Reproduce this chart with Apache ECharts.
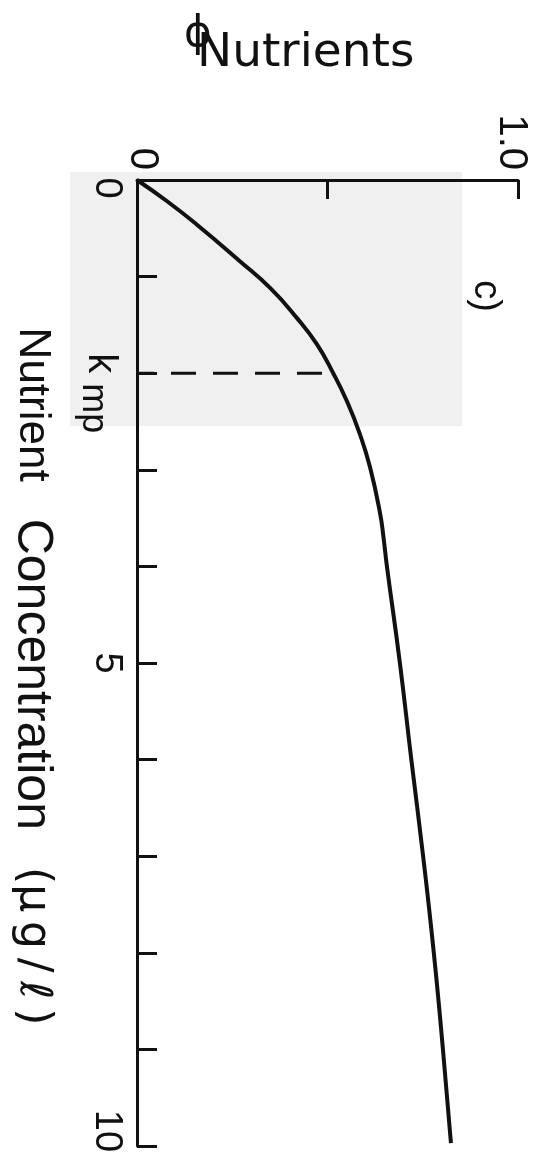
<!DOCTYPE html>
<html>
<head>
<meta charset="utf-8">
<script src="https://cdn.jsdelivr.net/npm/echarts@6/dist/echarts.min.js"></script>
<style>
html,body{margin:0;padding:0;background:#fff;}
#c{width:541px;height:1156px;}
</style>
</head>
<body>
<div id="c"></div>
<script>
// Nutrient concentration (µg/ℓ) along the curve, and the limitation factor φ
var concentration = [0, 0.22, 0.455, 0.84, 1.12, 1.43, 1.70, 2.0, 2.29, 2.63, 2.98, 3.45, 3.7, 4, 5, 6, 7, 8, 9, 9.97];
var phi =           [0, 0.079, 0.155, 0.27, 0.35, 0.42, 0.472, 0.515, 0.551, 0.585, 0.612, 0.638, 0.647, 0.656, 0.690, 0.720, 0.751, 0.779, 0.803, 0.824];
// half-saturation constant marker
var kmp = 2;
var phiAtKmp = 0.5;
// tick labels
var phiTickLabels = {0: '{a|0}', 1: '{b|1.0}'};
var concTickLabels = {0: '{z|0}', 2: '{k|k}{s|mp}', 5: '{f|5}', 10: '{t|10}'};

var chart = echarts.init(document.getElementById('c'), null, {renderer: 'canvas'});
var FONT = 'Liberation Sans';
var INK = '#111';

var curve = concentration.map(function (c, i) { return [phi[i], c]; });

chart.setOption({
  backgroundColor: '#fff',
  animation: false,
  title: [
    {text: 'ϕ', left: 184, top: 14, padding: 0,
     textStyle: {fontSize: 42, fontWeight: 'normal', fontFamily: 'DejaVu Sans', color: INK}},
    {text: 'Nutrients', left: 197, top: 30, padding: 0,
     textStyle: {fontSize: 47, fontWeight: 'normal', fontFamily: 'DejaVu Sans', color: INK}}
  ],
  graphic: [
    {type: 'rect', z: -10, shape: {x: 70, y: 172, width: 392, height: 254}, style: {fill: '#f0f0f0'}},
    {type: 'text', x: 485, y: 296, rotation: -Math.PI / 2,
     style: {text: 'c)', fontSize: 38, fontFamily: FONT, fill: INK, align: 'center', verticalAlign: 'middle'}}
  ],
  grid: {left: 137, top: 180, right: 23, bottom: 10, containLabel: false, outerBoundsMode: 'none'},
  xAxis: {
    type: 'value', position: 'top', min: 0, max: 1, interval: 0.5,
    splitLine: {show: false},
    axisLine: {show: true, lineStyle: {color: INK, width: 3}},
    axisTick: {show: true, inside: true, length: 19, lineStyle: {color: INK, width: 3}},
    axisLabel: {
      show: true, rotate: -90, margin: 10, showMinLabel: true, showMaxLabel: true,
      fontSize: 40, fontFamily: FONT, color: INK,
      formatter: function (v) { return phiTickLabels[v] !== undefined ? phiTickLabels[v] : ''; },
      rich: {
        a: {fontSize: 40, fontFamily: FONT, color: INK, padding: [0, 0, 10, 0]},
        b: {fontSize: 40, fontFamily: FONT, color: INK, padding: [14, 0, 0, 0]}
      }
    }
  },
  yAxis: {
    type: 'value', inverse: true, min: 0, max: 10, interval: 1,
    splitLine: {show: false},
    axisLine: {show: true, lineStyle: {color: INK, width: 3}},
    axisTick: {show: true, inside: true, length: 20, lineStyle: {color: INK, width: 3}},
    axisLabel: {
      show: true, rotate: -90, margin: 12, showMinLabel: true, showMaxLabel: true,
      fontSize: 38, fontFamily: FONT, color: INK,
      formatter: function (v) { return concTickLabels[v] !== undefined ? concTickLabels[v] : ''; },
      rich: {
        z: {fontSize: 38, fontFamily: FONT, color: INK, padding: [0, 0, 0, 16]},
        f: {fontSize: 38, fontFamily: FONT, color: INK},
        t: {fontSize: 38, fontFamily: FONT, color: INK, padding: [0, 30, 0, 0]},
        k: {fontSize: 40, fontFamily: FONT, color: INK, padding: [0, 10, 0, 40]},
        s: {fontSize: 36, fontFamily: FONT, color: INK, padding: [14, 0, 0, 0]}
      }
    },
    name: '{a|Nutrient}{b|Concentration}{c|(μ\u2009g\u2009/\u2009ℓ\u2009)}',
    nameLocation: 'middle', nameRotate: -90, nameGap: 80,
    nameTextStyle: {
      fontSize: 47, fontFamily: FONT, color: INK,
      rich: {
        a: {fontSize: 44, fontFamily: FONT, color: INK, padding: [0, 37, 0, 27]},
        b: {fontSize: 50, fontFamily: FONT, color: INK, padding: [0, 37, 0, 0]},
        c: {fontSize: 44, fontFamily: 'DejaVu Sans', color: INK}
      }
    }
  },
  series: [
    {
      type: 'line', data: curve, smooth: 0.5, symbol: 'none',
      lineStyle: {color: INK, width: 4}
    },
    {
      type: 'line', data: [[0, kmp], [phiAtKmp, kmp]], symbol: 'none',
      lineStyle: {color: INK, width: 3, type: [25, 17], dashOffset: 8}
    }
  ]
});
</script>
</body>
</html>
